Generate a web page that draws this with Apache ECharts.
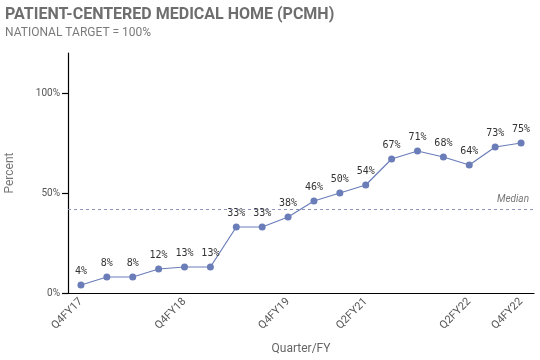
<!DOCTYPE html>
<html><head><meta charset="utf-8">
<script src="https://cdn.jsdelivr.net/npm/echarts@6/dist/echarts.min.js"></script>
<style>html,body{margin:0;padding:0;background:#fff}#c{width:540px;height:360px}</style>
</head><body><div id="c"></div>
<script>
var categories = ['Q4FY17','Q1FY18','Q2FY18','Q3FY18','Q4FY18','Q1FY19','Q2FY19','Q3FY19','Q4FY19','Q2FY20','Q4FY20','Q2FY21','Q3FY21','Q4FY21','Q1FY22','Q2FY22','Q3FY22','Q4FY22'];
var values = [4,8,8,12,13,13,33,33,38,46,50,54,67,71,68,64,73,75];
var shownLabels = ['Q4FY17','Q4FY18','Q4FY19','Q2FY21','Q2FY22','Q4FY22'];
var yTicks = [0,50,100];
var titleText = 'PATIENT-CENTERED MEDICAL HOME (PCMH)';
var subText = 'NATIONAL TARGET = 100%';

var chart = echarts.init(document.getElementById('c'));
function showIdx(i){ return shownLabels.indexOf(categories[i]) >= 0; }
chart.setOption({
  animation:false,
  title:{text:titleText, subtext:subText, left:0, top:2, itemGap:4,
    textStyle:{fontFamily:'Roboto', fontSize:16, fontWeight:'bold', color:'#6e6e6e'},
    subtextStyle:{fontFamily:'Roboto', fontSize:12, color:'#7a7a7a'}},
  grid:{left:68, right:6, top:53, bottom:67, containLabel:false, outerBoundsMode:'none'},
  xAxis:{type:'category', data:categories, boundaryGap:true,
    name:'Quarter/FY', nameLocation:'middle', nameGap:50,
    nameTextStyle:{fontFamily:'Roboto', fontSize:12, color:'#666'},
    axisLine:{lineStyle:{color:'#000', width:1.2}},
    axisTick:{alignWithLabel:true, interval:function(i){return showIdx(i);}, length:5, lineStyle:{color:'#555'}},
    axisLabel:{interval:function(i){return showIdx(i);}, rotate:45, fontFamily:'Roboto', fontSize:11, color:'#555', margin:7}},
  yAxis:{type:'value', min:0, max:120,
    name:'Percent', nameLocation:'middle', nameGap:52,
    nameTextStyle:{fontFamily:'Roboto', fontSize:12, color:'#777'},
    axisLine:{show:true, lineStyle:{color:'#000', width:1.2}},
    axisTick:{show:true, customValues:yTicks, length:6, lineStyle:{color:'#000', width:1.2}},
    axisLabel:{customValues:yTicks, formatter:'{value}%', fontFamily:'Roboto', fontSize:10, color:'#555', margin:8},
    splitLine:{show:false}},
  series:[{type:'line', data:values, symbol:'circle', symbolSize:7,
    itemStyle:{color:'#6a7db8'}, lineStyle:{color:'#6a7db8', width:1.2},
    label:{show:true, position:'top', distance:5, formatter:'{c}%', fontFamily:'DejaVu Sans Mono', fontSize:10, color:'#333'},
    markLine:{silent:true, symbol:'none',
      lineStyle:{type:[3,3], color:'#8a93b8', width:1},
      label:{show:true, position:'insideEndTop', formatter:'Median', fontFamily:'Roboto', fontStyle:'italic', fontSize:10, color:'#777'},
      data:[{type:'median'}]}}]
});
</script></body></html>
